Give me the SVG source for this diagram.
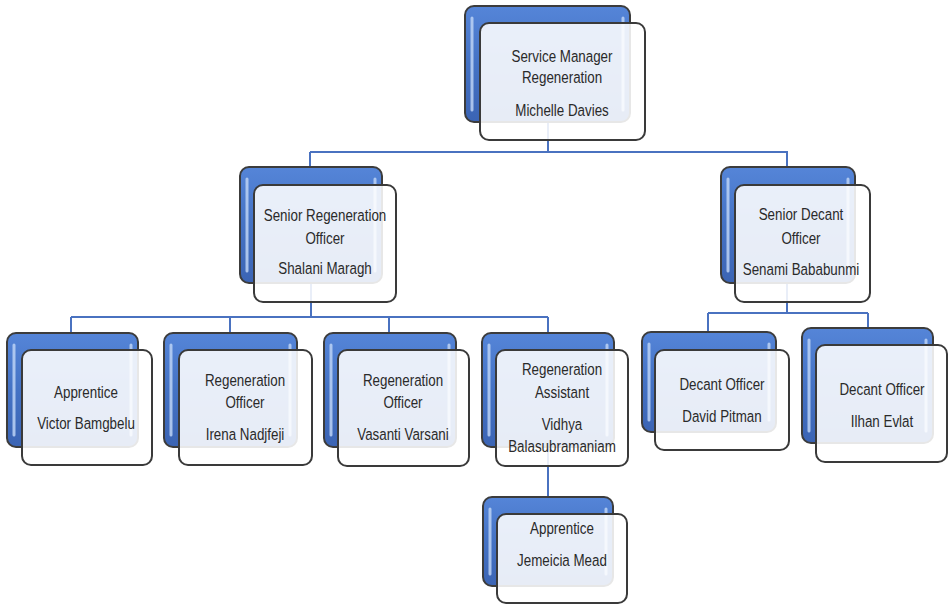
<svg xmlns="http://www.w3.org/2000/svg" width="950" height="605" viewBox="0 0 950 605">
<defs>
<linearGradient id="blueGrad" x1="0" y1="0" x2="0" y2="1">
<stop offset="0" stop-color="#5585d8"/>
<stop offset="0.5" stop-color="#4472c4"/>
<stop offset="1" stop-color="#3b64b4"/>
</linearGradient>
<style>
.back{fill:url(#blueGrad);stroke:#3c3c3c;stroke-width:2}
.hl{stroke:#bcd2f4;stroke-width:3;stroke-linecap:round;fill:none;opacity:0.85}
.front{fill:#ffffff;fill-opacity:0.88;stroke:#3a3a3a;stroke-width:2}
.conn{stroke:#4a72c0;stroke-width:2;fill:none}
.t{font-family:"Liberation Sans",Arial,sans-serif;font-size:16.5px;fill:#2a2a2a;text-anchor:middle}
</style>
</defs>
<rect width="950" height="605" fill="#ffffff"/>
<g id="connectors">
<path class="conn" d="M548,122 V152 M310,152 H788 M310,152 V167 M787,152 V167"/>
<path class="conn" d="M311,283 V317 M71,317 H548 M71,317 V333 M230,317 V333 M389,317 V333 M548,317 V333"/>
<path class="conn" d="M787,283 V313 M708,313 H868 M708,313 V332 M868,313 V328"/>
<path class="conn" d="M548,447 V497"/>
</g>
<g id="n-michelle">
<rect class="back" x="465" y="6" width="165" height="116" rx="9"/>
<path class="hl" d="M472,18 V110 M623,18 V110"/>
<rect class="front" x="480" y="23" width="165" height="117" rx="9"/>
<g transform="translate(562,0) scale(0.81,1)"><text class="t" x="0" y="62">Service Manager</text><text class="t" x="0" y="83">Regeneration</text><text class="t" x="0" y="116">Michelle Davies</text></g>
</g>
<g id="n-shalani">
<rect class="back" x="240" y="167" width="142" height="116" rx="9"/>
<path class="hl" d="M247,179 V271 M375,179 V271"/>
<rect class="front" x="254" y="185" width="142" height="117" rx="9"/>
<g transform="translate(325,0) scale(0.81,1)"><text class="t" x="0" y="221">Senior Regeneration</text><text class="t" x="0" y="244">Officer</text><text class="t" x="0" y="274">Shalani Maragh</text></g>
</g>
<g id="n-senami">
<rect class="back" x="721" y="167" width="134" height="116" rx="9"/>
<path class="hl" d="M728,179 V271 M848,179 V271"/>
<rect class="front" x="735" y="185" width="135" height="117" rx="9"/>
<g transform="translate(801,0) scale(0.81,1)"><text class="t" x="0" y="220">Senior Decant</text><text class="t" x="0" y="244">Officer</text><text class="t" x="0" y="275">Senami Bababunmi</text></g>
</g>
<g id="n-victor">
<rect class="back" x="7" y="333" width="131" height="114" rx="9"/>
<path class="hl" d="M14,345 V435 M131,345 V435"/>
<rect class="front" x="22" y="350" width="130" height="115" rx="9"/>
<g transform="translate(86,0) scale(0.81,1)"><text class="t" x="0" y="398">Apprentice</text><text class="t" x="0" y="429">Victor Bamgbelu</text></g>
</g>
<g id="n-irena">
<rect class="back" x="164" y="333" width="133" height="114" rx="9"/>
<path class="hl" d="M171,345 V435 M290,345 V435"/>
<rect class="front" x="179" y="350" width="133" height="115" rx="9"/>
<g transform="translate(245,0) scale(0.81,1)"><text class="t" x="0" y="386">Regeneration</text><text class="t" x="0" y="408">Officer</text><text class="t" x="0" y="440">Irena Nadjfeji</text></g>
</g>
<g id="n-vasanti">
<rect class="back" x="324" y="333" width="132" height="114" rx="9"/>
<path class="hl" d="M331,345 V435 M449,345 V435"/>
<rect class="front" x="338" y="350" width="131" height="116" rx="9"/>
<g transform="translate(403,0) scale(0.81,1)"><text class="t" x="0" y="386">Regeneration</text><text class="t" x="0" y="408">Officer</text><text class="t" x="0" y="440">Vasanti Varsani</text></g>
</g>
<g id="n-vidhya">
<rect class="back" x="482" y="333" width="132" height="114" rx="9"/>
<path class="hl" d="M489,345 V435 M607,345 V435"/>
<rect class="front" x="496" y="350" width="132" height="116" rx="9"/>
<g transform="translate(562,0) scale(0.81,1)"><text class="t" x="0" y="375">Regeneration</text><text class="t" x="0" y="398">Assistant</text><text class="t" x="0" y="430">Vidhya</text><text class="t" x="0" y="452">Balasubramaniam</text></g>
</g>
<g id="n-jemeicia">
<rect class="back" x="483" y="497" width="130" height="89" rx="9"/>
<path class="hl" d="M490,509 V574 M606,509 V574"/>
<rect class="front" x="497" y="514" width="130" height="89" rx="9"/>
<g transform="translate(562,0) scale(0.81,1)"><text class="t" x="0" y="534">Apprentice</text><text class="t" x="0" y="566">Jemeicia Mead</text></g>
</g>
<g id="n-david">
<rect class="back" x="642" y="332" width="134" height="100" rx="9"/>
<path class="hl" d="M649,344 V420 M769,344 V420"/>
<rect class="front" x="655" y="350" width="134" height="100" rx="9"/>
<g transform="translate(722,0) scale(0.81,1)"><text class="t" x="0" y="390">Decant Officer</text><text class="t" x="0" y="422">David Pitman</text></g>
</g>
<g id="n-ilhan">
<rect class="back" x="802" y="328" width="131" height="115" rx="9"/>
<path class="hl" d="M809,340 V431 M926,340 V431"/>
<rect class="front" x="816" y="345" width="131" height="117" rx="9"/>
<g transform="translate(882,0) scale(0.81,1)"><text class="t" x="0" y="395">Decant Officer</text><text class="t" x="0" y="427">Ilhan Evlat</text></g>
</g>
</svg>
